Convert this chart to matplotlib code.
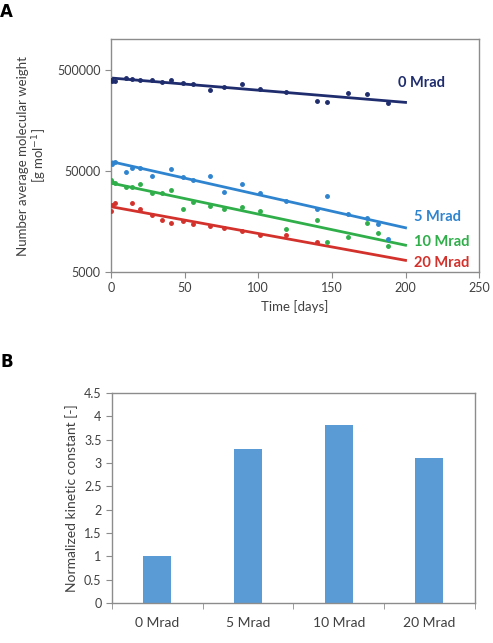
import numpy as np
import matplotlib
matplotlib.use("Agg")
import matplotlib.pyplot as plt
from matplotlib.ticker import FixedLocator, NullLocator

plt.rcParams['font.family'] = ['Lato', 'DejaVu Sans']

# Panel A data: time (days) and Mn (g/mol)
t_0 = [0, 1, 3, 10, 14, 20, 28, 35, 41, 49, 56, 67, 77, 89, 101, 119, 140, 147, 161, 174, 188]
mn_0 = [398000, 389000, 390000, 413000, 404000, 398000, 398000, 374000, 398000, 369000, 358000,
        317000, 337000, 363000, 321000, 298000, 244000, 239000, 294000, 285000, 232000]

t_5 = [0, 1, 3, 10, 14, 20, 28, 41, 49, 56, 67, 77, 89, 101, 119, 140, 147, 161, 174, 181, 188]
mn_5 = [60200, 58500, 60700, 49100, 52900, 53800, 44800, 52100, 43800, 40600, 44800,
        30600, 37000, 29900, 24900, 21200, 28400, 18900, 16900, 14900, 10600]

t_10 = [0, 1, 3, 10, 14, 20, 28, 35, 41, 49, 56, 67, 77, 89, 101, 119, 140, 147, 161, 174, 181, 188]
mn_10 = [40600, 39100, 37600, 34300, 34300, 36700, 29900, 30400, 32300, 20800, 24700,
         22400, 20800, 22100, 20100, 13300, 16300, 9900, 11100, 15100, 12200, 9000]

t_20 = [0, 0.5, 3, 14, 20, 28, 35, 41, 49, 56, 67, 77, 89, 101, 119, 140]
mn_20 = [20100, 22900, 23800, 24200, 21000, 18200, 16300, 15100, 15900, 14900, 14200,
         13700, 12800, 11600, 11600, 9800]

series_names = ['0 Mrad', '5 Mrad', '10 Mrad', '20 Mrad']
series_colors = ['#1f2d6e', '#2f84cf', '#2fae4a', '#d3312b']

# Panel B data
bar_labels = ['0 Mrad', '5 Mrad', '10 Mrad', '20 Mrad']
bar_values = [1.0, 3.3, 3.82, 3.1]

fig = plt.figure(figsize=(4.93, 6.43), dpi=100)
gray = '#8c8c8c'
txt = '#404040'

# ---- Panel A ----
ax1 = fig.add_axes([0.225, 0.577, 0.747, 0.362])
data = [(t_0, mn_0), (t_5, mn_5), (t_10, mn_10), (t_20, mn_20)]
tt = np.linspace(0, 200, 50)
for (t, mn), name, c in zip(data, series_names, series_colors):
    t = np.array(t, float)
    mn = np.array(mn, float)
    ax1.plot(t, mn, 'o', ms=2.5, color=c, zorder=3)
    # first-order decay fit (straight on the log axis)
    k, b = np.polyfit(t, np.log(mn), 1)
    ax1.plot(tt, np.exp(b + k * tt), color=c, lw=2, zorder=2)

ax1.set_yscale('log')
ax1.set_ylim(5000, 1000000)
ax1.set_xlim(0, 250)
ax1.yaxis.set_major_locator(FixedLocator([5000, 50000, 500000]))
ax1.yaxis.set_minor_locator(NullLocator())
ax1.set_yticklabels(['5000', '50000', '500000'])
ax1.set_xticks([0, 50, 100, 150, 200, 250])
ax1.set_xlabel('Time [days]', fontsize=9.5, color=txt, labelpad=4)
ax1.set_ylabel('Number average molecular weight\n[g mol$^{-1}$]', fontsize=9.5, color=txt,
               labelpad=6, linespacing=1.1)

label_pos = [(195, 370000), (206, 17500), (206, 9900), (206, 6150)]
for (x, y), name, c in zip(label_pos, series_names, series_colors):
    ax1.text(x, y, name, color=c, fontsize=10.5, fontweight='bold', ha='left', va='center')

# ---- Panel B ----
ax2 = fig.add_axes([0.227, 0.062, 0.736, 0.327])
xpos = np.arange(len(bar_values))
ax2.bar(xpos, bar_values, width=0.31, color='#5b9bd5', zorder=2)
ax2.set_xlim(-0.5, len(bar_values) - 0.5)
ax2.set_ylim(0, 4.5)
ax2.set_yticks(np.arange(0, 4.51, 0.5))
ax2.set_yticklabels(['0', '0.5', '1', '1.5', '2', '2.5', '3', '3.5', '4', '4.5'])
ax2.set_xticks(xpos)
ax2.set_xticklabels(bar_labels)
ax2.xaxis.set_minor_locator(FixedLocator(np.arange(-0.5, len(bar_values), 1.0)))
ax2.set_ylabel('Normalized kinetic constant [-]', fontsize=10, color=txt, labelpad=4)

for ax in (ax1, ax2):
    for s in ax.spines.values():
        s.set_color(gray)
        s.set_linewidth(1)
    ax.tick_params(axis='both', which='major', labelsize=9, colors=txt, length=4)
    ax.tick_params(axis='both', which='major', color=gray)

ax2.tick_params(axis='x', which='major', length=0, pad=10, labelsize=10)
ax2.tick_params(axis='x', which='minor', length=4, color=gray)

fig.text(0.0, 0.982, 'A', fontsize=12, fontweight='bold', ha='left', va='center', family='DejaVu Sans')
fig.text(0.0, 0.437, 'B', fontsize=12, fontweight='bold', ha='left', va='center', family='DejaVu Sans')

fig.savefig('out.png', dpi=100)
